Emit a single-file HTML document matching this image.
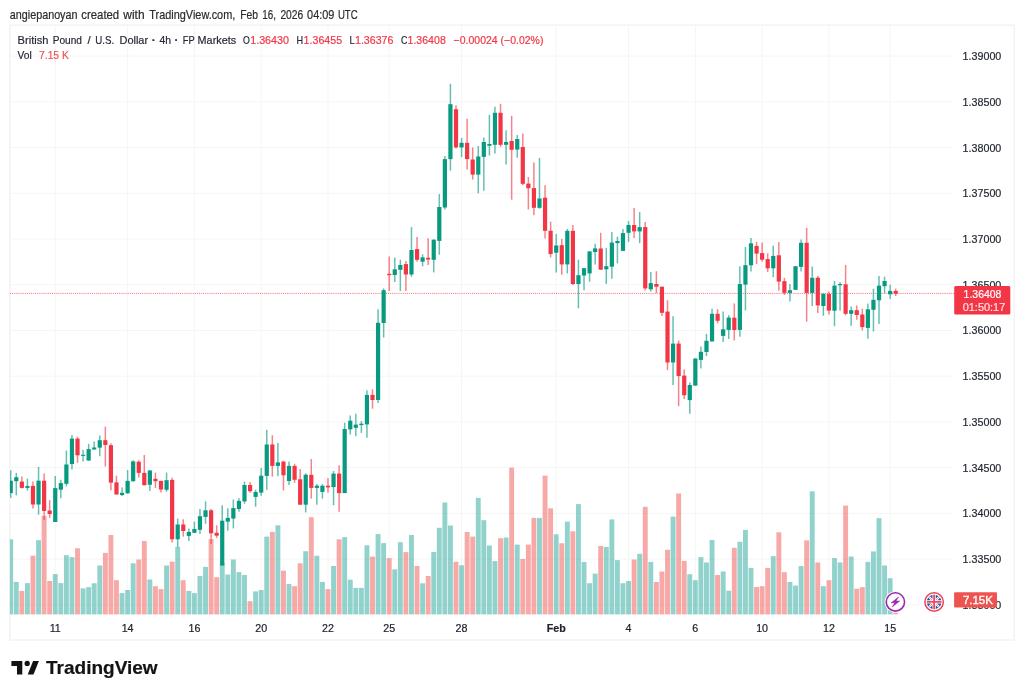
<!DOCTYPE html>
<html><head><meta charset="utf-8"><title>GBPUSD</title>
<style>html,body{margin:0;padding:0;background:#fff;}body{width:1024px;height:696px;overflow:hidden;font-family:"Liberation Sans",sans-serif;}svg{display:block;position:absolute;left:0;top:0;will-change:transform;}text{font-family:"Liberation Sans",sans-serif;}</style>
</head><body>
<svg width="1024" height="696" viewBox="0 0 1024 696">
<rect x="0" y="0" width="1024" height="696" fill="#ffffff"/>
<defs><clipPath id="plot"><rect x="9.9" y="25.7" width="1003.6" height="613.5"/></clipPath><clipPath id="flag"><circle cx="934.1" cy="601.95" r="7.3"/></clipPath></defs>
<g stroke="#f5f5f6" stroke-width="1.0" shape-rendering="auto">
<line x1="10" y1="56.10" x2="953.3" y2="56.10"/>
<line x1="10" y1="101.83" x2="953.3" y2="101.83"/>
<line x1="10" y1="147.55" x2="953.3" y2="147.55"/>
<line x1="10" y1="193.28" x2="953.3" y2="193.28"/>
<line x1="10" y1="239.00" x2="953.3" y2="239.00"/>
<line x1="10" y1="284.73" x2="953.3" y2="284.73"/>
<line x1="10" y1="330.45" x2="953.3" y2="330.45"/>
<line x1="10" y1="376.18" x2="953.3" y2="376.18"/>
<line x1="10" y1="421.90" x2="953.3" y2="421.90"/>
<line x1="10" y1="467.63" x2="953.3" y2="467.63"/>
<line x1="10" y1="513.35" x2="953.3" y2="513.35"/>
<line x1="10" y1="559.08" x2="953.3" y2="559.08"/>
<line x1="10" y1="604.80" x2="953.3" y2="604.80"/>
<line x1="55.25" y1="25.7" x2="55.25" y2="614.4"/>
<line x1="127.61" y1="25.7" x2="127.61" y2="614.4"/>
<line x1="194.40" y1="25.7" x2="194.40" y2="614.4"/>
<line x1="261.19" y1="25.7" x2="261.19" y2="614.4"/>
<line x1="327.98" y1="25.7" x2="327.98" y2="614.4"/>
<line x1="389.21" y1="25.7" x2="389.21" y2="614.4"/>
<line x1="461.57" y1="25.7" x2="461.57" y2="614.4"/>
<line x1="556.19" y1="25.7" x2="556.19" y2="614.4"/>
<line x1="628.55" y1="25.7" x2="628.55" y2="614.4"/>
<line x1="695.34" y1="25.7" x2="695.34" y2="614.4"/>
<line x1="762.13" y1="25.7" x2="762.13" y2="614.4"/>
<line x1="828.92" y1="25.7" x2="828.92" y2="614.4"/>
<line x1="890.15" y1="25.7" x2="890.15" y2="614.4"/>
</g>
<rect x="9.9" y="25.1" width="1004.3" height="614.9" fill="none" stroke="#f1f1f2" stroke-width="1.3"/>
<g clip-path="url(#plot)">
<rect x="8.27" y="539.30" width="4.90" height="75.10" fill="rgba(38,166,154,0.5)"/>
<rect x="13.84" y="581.90" width="4.90" height="32.50" fill="rgba(38,166,154,0.5)"/>
<rect x="19.40" y="590.90" width="4.90" height="23.50" fill="rgba(239,83,80,0.5)"/>
<rect x="24.97" y="583.10" width="4.90" height="31.30" fill="rgba(38,166,154,0.5)"/>
<rect x="30.53" y="555.70" width="4.90" height="58.70" fill="rgba(239,83,80,0.5)"/>
<rect x="36.10" y="540.20" width="4.90" height="74.20" fill="rgba(38,166,154,0.5)"/>
<rect x="41.67" y="515.90" width="4.90" height="98.50" fill="rgba(239,83,80,0.5)"/>
<rect x="47.23" y="581.00" width="4.90" height="33.40" fill="rgba(239,83,80,0.5)"/>
<rect x="52.80" y="574.10" width="4.90" height="40.30" fill="rgba(38,166,154,0.5)"/>
<rect x="58.36" y="583.10" width="4.90" height="31.30" fill="rgba(38,166,154,0.5)"/>
<rect x="63.93" y="555.20" width="4.90" height="59.20" fill="rgba(38,166,154,0.5)"/>
<rect x="69.50" y="557.20" width="4.90" height="57.20" fill="rgba(38,166,154,0.5)"/>
<rect x="75.06" y="548.30" width="4.90" height="66.10" fill="rgba(239,83,80,0.5)"/>
<rect x="80.63" y="588.40" width="4.90" height="26.00" fill="rgba(38,166,154,0.5)"/>
<rect x="86.19" y="587.10" width="4.90" height="27.30" fill="rgba(38,166,154,0.5)"/>
<rect x="91.76" y="583.30" width="4.90" height="31.10" fill="rgba(38,166,154,0.5)"/>
<rect x="97.33" y="565.50" width="4.90" height="48.90" fill="rgba(38,166,154,0.5)"/>
<rect x="102.89" y="552.90" width="4.90" height="61.50" fill="rgba(239,83,80,0.5)"/>
<rect x="108.46" y="535.00" width="4.90" height="79.40" fill="rgba(239,83,80,0.5)"/>
<rect x="114.02" y="580.20" width="4.90" height="34.20" fill="rgba(239,83,80,0.5)"/>
<rect x="119.59" y="593.10" width="4.90" height="21.30" fill="rgba(38,166,154,0.5)"/>
<rect x="125.16" y="590.00" width="4.90" height="24.40" fill="rgba(38,166,154,0.5)"/>
<rect x="130.72" y="563.30" width="4.90" height="51.10" fill="rgba(38,166,154,0.5)"/>
<rect x="136.29" y="559.50" width="4.90" height="54.90" fill="rgba(239,83,80,0.5)"/>
<rect x="141.85" y="541.00" width="4.90" height="73.40" fill="rgba(239,83,80,0.5)"/>
<rect x="147.42" y="579.50" width="4.90" height="34.90" fill="rgba(38,166,154,0.5)"/>
<rect x="152.99" y="586.20" width="4.90" height="28.20" fill="rgba(239,83,80,0.5)"/>
<rect x="158.55" y="589.10" width="4.90" height="25.30" fill="rgba(239,83,80,0.5)"/>
<rect x="164.12" y="565.50" width="4.90" height="48.90" fill="rgba(38,166,154,0.5)"/>
<rect x="169.68" y="561.70" width="4.90" height="52.70" fill="rgba(239,83,80,0.5)"/>
<rect x="175.25" y="546.90" width="4.90" height="67.50" fill="rgba(38,166,154,0.5)"/>
<rect x="180.82" y="580.20" width="4.90" height="34.20" fill="rgba(239,83,80,0.5)"/>
<rect x="186.38" y="590.90" width="4.90" height="23.50" fill="rgba(38,166,154,0.5)"/>
<rect x="191.95" y="593.10" width="4.90" height="21.30" fill="rgba(38,166,154,0.5)"/>
<rect x="197.51" y="575.90" width="4.90" height="38.50" fill="rgba(38,166,154,0.5)"/>
<rect x="203.08" y="566.90" width="4.90" height="47.50" fill="rgba(38,166,154,0.5)"/>
<rect x="208.65" y="539.10" width="4.90" height="75.30" fill="rgba(239,83,80,0.5)"/>
<rect x="214.21" y="577.20" width="4.90" height="37.20" fill="rgba(239,83,80,0.5)"/>
<rect x="219.78" y="563.00" width="4.90" height="51.40" fill="rgba(38,166,154,0.5)"/>
<rect x="225.34" y="574.50" width="4.90" height="39.90" fill="rgba(38,166,154,0.5)"/>
<rect x="230.91" y="559.50" width="4.90" height="54.90" fill="rgba(38,166,154,0.5)"/>
<rect x="236.48" y="572.10" width="4.90" height="42.30" fill="rgba(38,166,154,0.5)"/>
<rect x="242.04" y="575.00" width="4.90" height="39.40" fill="rgba(38,166,154,0.5)"/>
<rect x="247.61" y="601.20" width="4.90" height="13.20" fill="rgba(239,83,80,0.5)"/>
<rect x="253.17" y="591.40" width="4.90" height="23.00" fill="rgba(38,166,154,0.5)"/>
<rect x="258.74" y="590.00" width="4.90" height="24.40" fill="rgba(38,166,154,0.5)"/>
<rect x="264.31" y="536.60" width="4.90" height="77.80" fill="rgba(38,166,154,0.5)"/>
<rect x="269.87" y="531.90" width="4.90" height="82.50" fill="rgba(239,83,80,0.5)"/>
<rect x="275.44" y="525.30" width="4.90" height="89.10" fill="rgba(38,166,154,0.5)"/>
<rect x="281.00" y="570.70" width="4.90" height="43.70" fill="rgba(239,83,80,0.5)"/>
<rect x="286.57" y="584.00" width="4.90" height="30.40" fill="rgba(38,166,154,0.5)"/>
<rect x="292.14" y="586.20" width="4.90" height="28.20" fill="rgba(239,83,80,0.5)"/>
<rect x="297.70" y="563.30" width="4.90" height="51.10" fill="rgba(239,83,80,0.5)"/>
<rect x="303.27" y="551.20" width="4.90" height="63.20" fill="rgba(38,166,154,0.5)"/>
<rect x="308.83" y="517.20" width="4.90" height="97.20" fill="rgba(239,83,80,0.5)"/>
<rect x="314.40" y="555.70" width="4.90" height="58.70" fill="rgba(38,166,154,0.5)"/>
<rect x="319.97" y="581.90" width="4.90" height="32.50" fill="rgba(38,166,154,0.5)"/>
<rect x="325.53" y="589.10" width="4.90" height="25.30" fill="rgba(239,83,80,0.5)"/>
<rect x="331.10" y="566.00" width="4.90" height="48.40" fill="rgba(38,166,154,0.5)"/>
<rect x="336.66" y="539.30" width="4.90" height="75.10" fill="rgba(239,83,80,0.5)"/>
<rect x="342.23" y="537.10" width="4.90" height="77.30" fill="rgba(38,166,154,0.5)"/>
<rect x="347.80" y="579.70" width="4.90" height="34.70" fill="rgba(38,166,154,0.5)"/>
<rect x="353.36" y="587.90" width="4.90" height="26.50" fill="rgba(38,166,154,0.5)"/>
<rect x="358.93" y="587.90" width="4.90" height="26.50" fill="rgba(38,166,154,0.5)"/>
<rect x="364.49" y="545.30" width="4.90" height="69.10" fill="rgba(38,166,154,0.5)"/>
<rect x="370.06" y="556.60" width="4.90" height="57.80" fill="rgba(239,83,80,0.5)"/>
<rect x="375.63" y="534.10" width="4.90" height="80.30" fill="rgba(38,166,154,0.5)"/>
<rect x="381.19" y="543.10" width="4.90" height="71.30" fill="rgba(38,166,154,0.5)"/>
<rect x="386.76" y="558.10" width="4.90" height="56.30" fill="rgba(239,83,80,0.5)"/>
<rect x="392.32" y="569.30" width="4.90" height="45.10" fill="rgba(38,166,154,0.5)"/>
<rect x="397.89" y="542.20" width="4.90" height="72.20" fill="rgba(38,166,154,0.5)"/>
<rect x="403.46" y="552.10" width="4.90" height="62.30" fill="rgba(239,83,80,0.5)"/>
<rect x="409.02" y="535.00" width="4.90" height="79.40" fill="rgba(38,166,154,0.5)"/>
<rect x="414.59" y="566.00" width="4.90" height="48.40" fill="rgba(239,83,80,0.5)"/>
<rect x="420.15" y="583.30" width="4.90" height="31.10" fill="rgba(38,166,154,0.5)"/>
<rect x="425.72" y="576.00" width="4.90" height="38.40" fill="rgba(239,83,80,0.5)"/>
<rect x="431.29" y="552.00" width="4.90" height="62.40" fill="rgba(38,166,154,0.5)"/>
<rect x="436.85" y="527.80" width="4.90" height="86.60" fill="rgba(38,166,154,0.5)"/>
<rect x="442.42" y="502.50" width="4.90" height="111.90" fill="rgba(38,166,154,0.5)"/>
<rect x="447.98" y="525.50" width="4.90" height="88.90" fill="rgba(38,166,154,0.5)"/>
<rect x="453.55" y="561.80" width="4.90" height="52.60" fill="rgba(239,83,80,0.5)"/>
<rect x="459.12" y="565.30" width="4.90" height="49.10" fill="rgba(38,166,154,0.5)"/>
<rect x="464.68" y="532.00" width="4.90" height="82.40" fill="rgba(239,83,80,0.5)"/>
<rect x="470.25" y="536.60" width="4.90" height="77.80" fill="rgba(239,83,80,0.5)"/>
<rect x="475.81" y="497.90" width="4.90" height="116.50" fill="rgba(38,166,154,0.5)"/>
<rect x="481.38" y="520.20" width="4.90" height="94.20" fill="rgba(38,166,154,0.5)"/>
<rect x="486.95" y="545.50" width="4.90" height="68.90" fill="rgba(38,166,154,0.5)"/>
<rect x="492.51" y="561.10" width="4.90" height="53.30" fill="rgba(38,166,154,0.5)"/>
<rect x="498.08" y="538.20" width="4.90" height="76.20" fill="rgba(239,83,80,0.5)"/>
<rect x="503.64" y="537.50" width="4.90" height="76.90" fill="rgba(38,166,154,0.5)"/>
<rect x="509.21" y="467.60" width="4.90" height="146.80" fill="rgba(239,83,80,0.5)"/>
<rect x="514.78" y="544.60" width="4.90" height="69.80" fill="rgba(38,166,154,0.5)"/>
<rect x="520.34" y="558.90" width="4.90" height="55.50" fill="rgba(239,83,80,0.5)"/>
<rect x="525.91" y="544.60" width="4.90" height="69.80" fill="rgba(239,83,80,0.5)"/>
<rect x="531.47" y="517.90" width="4.90" height="96.50" fill="rgba(239,83,80,0.5)"/>
<rect x="537.04" y="517.90" width="4.90" height="96.50" fill="rgba(38,166,154,0.5)"/>
<rect x="542.61" y="475.60" width="4.90" height="138.80" fill="rgba(239,83,80,0.5)"/>
<rect x="548.17" y="508.30" width="4.90" height="106.10" fill="rgba(239,83,80,0.5)"/>
<rect x="553.74" y="534.30" width="4.90" height="80.10" fill="rgba(38,166,154,0.5)"/>
<rect x="559.30" y="543.30" width="4.90" height="71.10" fill="rgba(239,83,80,0.5)"/>
<rect x="564.87" y="521.60" width="4.90" height="92.80" fill="rgba(38,166,154,0.5)"/>
<rect x="570.44" y="531.30" width="4.90" height="83.10" fill="rgba(239,83,80,0.5)"/>
<rect x="576.00" y="504.10" width="4.90" height="110.30" fill="rgba(38,166,154,0.5)"/>
<rect x="581.57" y="561.90" width="4.90" height="52.50" fill="rgba(38,166,154,0.5)"/>
<rect x="587.13" y="583.20" width="4.90" height="31.20" fill="rgba(38,166,154,0.5)"/>
<rect x="592.70" y="573.60" width="4.90" height="40.80" fill="rgba(38,166,154,0.5)"/>
<rect x="598.27" y="546.00" width="4.90" height="68.40" fill="rgba(239,83,80,0.5)"/>
<rect x="603.83" y="547.00" width="4.90" height="67.40" fill="rgba(38,166,154,0.5)"/>
<rect x="609.40" y="519.40" width="4.90" height="95.00" fill="rgba(38,166,154,0.5)"/>
<rect x="614.96" y="560.10" width="4.90" height="54.30" fill="rgba(38,166,154,0.5)"/>
<rect x="620.53" y="583.20" width="4.90" height="31.20" fill="rgba(38,166,154,0.5)"/>
<rect x="626.10" y="581.00" width="4.90" height="33.40" fill="rgba(38,166,154,0.5)"/>
<rect x="631.66" y="559.50" width="4.90" height="54.90" fill="rgba(239,83,80,0.5)"/>
<rect x="637.23" y="553.80" width="4.90" height="60.60" fill="rgba(38,166,154,0.5)"/>
<rect x="642.79" y="506.80" width="4.90" height="107.60" fill="rgba(239,83,80,0.5)"/>
<rect x="648.36" y="561.90" width="4.90" height="52.50" fill="rgba(38,166,154,0.5)"/>
<rect x="653.93" y="582.00" width="4.90" height="32.40" fill="rgba(239,83,80,0.5)"/>
<rect x="659.49" y="571.50" width="4.90" height="42.90" fill="rgba(239,83,80,0.5)"/>
<rect x="665.06" y="549.80" width="4.90" height="64.60" fill="rgba(239,83,80,0.5)"/>
<rect x="670.62" y="516.60" width="4.90" height="97.80" fill="rgba(38,166,154,0.5)"/>
<rect x="676.19" y="493.50" width="4.90" height="120.90" fill="rgba(239,83,80,0.5)"/>
<rect x="681.76" y="560.90" width="4.90" height="53.50" fill="rgba(239,83,80,0.5)"/>
<rect x="687.32" y="574.20" width="4.90" height="40.20" fill="rgba(38,166,154,0.5)"/>
<rect x="692.89" y="580.20" width="4.90" height="34.20" fill="rgba(38,166,154,0.5)"/>
<rect x="698.45" y="557.10" width="4.90" height="57.30" fill="rgba(38,166,154,0.5)"/>
<rect x="704.02" y="562.50" width="4.90" height="51.90" fill="rgba(38,166,154,0.5)"/>
<rect x="709.59" y="540.00" width="4.90" height="74.40" fill="rgba(38,166,154,0.5)"/>
<rect x="715.15" y="575.00" width="4.90" height="39.40" fill="rgba(239,83,80,0.5)"/>
<rect x="720.72" y="571.50" width="4.90" height="42.90" fill="rgba(38,166,154,0.5)"/>
<rect x="726.28" y="590.70" width="4.90" height="23.70" fill="rgba(38,166,154,0.5)"/>
<rect x="731.85" y="547.80" width="4.90" height="66.60" fill="rgba(239,83,80,0.5)"/>
<rect x="737.42" y="541.80" width="4.90" height="72.60" fill="rgba(38,166,154,0.5)"/>
<rect x="742.98" y="529.90" width="4.90" height="84.50" fill="rgba(38,166,154,0.5)"/>
<rect x="748.55" y="567.90" width="4.90" height="46.50" fill="rgba(38,166,154,0.5)"/>
<rect x="754.11" y="587.00" width="4.90" height="27.40" fill="rgba(239,83,80,0.5)"/>
<rect x="759.68" y="586.20" width="4.90" height="28.20" fill="rgba(239,83,80,0.5)"/>
<rect x="765.25" y="567.90" width="4.90" height="46.50" fill="rgba(239,83,80,0.5)"/>
<rect x="770.81" y="556.10" width="4.90" height="58.30" fill="rgba(38,166,154,0.5)"/>
<rect x="776.38" y="532.30" width="4.90" height="82.10" fill="rgba(239,83,80,0.5)"/>
<rect x="781.94" y="572.20" width="4.90" height="42.20" fill="rgba(239,83,80,0.5)"/>
<rect x="787.51" y="582.00" width="4.90" height="32.40" fill="rgba(38,166,154,0.5)"/>
<rect x="793.08" y="585.60" width="4.90" height="28.80" fill="rgba(38,166,154,0.5)"/>
<rect x="798.64" y="566.10" width="4.90" height="48.30" fill="rgba(38,166,154,0.5)"/>
<rect x="804.21" y="540.40" width="4.90" height="74.00" fill="rgba(239,83,80,0.5)"/>
<rect x="809.77" y="491.30" width="4.90" height="123.10" fill="rgba(38,166,154,0.5)"/>
<rect x="815.34" y="562.50" width="4.90" height="51.90" fill="rgba(239,83,80,0.5)"/>
<rect x="820.91" y="586.20" width="4.90" height="28.20" fill="rgba(38,166,154,0.5)"/>
<rect x="826.47" y="580.20" width="4.90" height="34.20" fill="rgba(239,83,80,0.5)"/>
<rect x="832.04" y="558.10" width="4.90" height="56.30" fill="rgba(38,166,154,0.5)"/>
<rect x="837.60" y="562.50" width="4.90" height="51.90" fill="rgba(38,166,154,0.5)"/>
<rect x="843.17" y="505.60" width="4.90" height="108.80" fill="rgba(239,83,80,0.5)"/>
<rect x="848.74" y="556.50" width="4.90" height="57.90" fill="rgba(38,166,154,0.5)"/>
<rect x="854.30" y="588.70" width="4.90" height="25.70" fill="rgba(239,83,80,0.5)"/>
<rect x="859.87" y="587.20" width="4.90" height="27.20" fill="rgba(239,83,80,0.5)"/>
<rect x="865.43" y="561.90" width="4.90" height="52.50" fill="rgba(38,166,154,0.5)"/>
<rect x="871.00" y="551.40" width="4.90" height="63.00" fill="rgba(38,166,154,0.5)"/>
<rect x="876.57" y="518.20" width="4.90" height="96.20" fill="rgba(38,166,154,0.5)"/>
<rect x="882.13" y="565.50" width="4.90" height="48.90" fill="rgba(38,166,154,0.5)"/>
<rect x="887.70" y="578.20" width="4.90" height="36.20" fill="rgba(38,166,154,0.5)"/>
<rect x="893.26" y="612.40" width="4.90" height="2.00" fill="rgba(239,83,80,0.5)"/>
<line x1="10" y1="293.4" x2="954" y2="293.4" stroke="#f23645" stroke-width="1" stroke-dasharray="1.05 1.05" opacity="0.72"/>
<line x1="10.72" y1="470.30" x2="10.72" y2="497.90" stroke="#089981" stroke-width="1.5" opacity="0.62"/>
<rect x="8.62" y="480.70" width="4.20" height="12.40" fill="#089981"/>
<line x1="16.29" y1="472.90" x2="16.29" y2="495.30" stroke="#089981" stroke-width="1.5" opacity="0.62"/>
<rect x="14.19" y="477.20" width="4.20" height="4.00" fill="#089981"/>
<line x1="21.85" y1="476.40" x2="21.85" y2="488.40" stroke="#f23645" stroke-width="1.5" opacity="0.62"/>
<rect x="19.75" y="481.60" width="4.20" height="6.30" fill="#f23645"/>
<line x1="27.42" y1="478.60" x2="27.42" y2="490.70" stroke="#089981" stroke-width="1.5" opacity="0.62"/>
<rect x="25.32" y="486.00" width="4.20" height="1.90" fill="#089981"/>
<line x1="32.98" y1="481.60" x2="32.98" y2="508.60" stroke="#f23645" stroke-width="1.5" opacity="0.62"/>
<rect x="30.88" y="485.90" width="4.20" height="18.60" fill="#f23645"/>
<line x1="38.55" y1="466.90" x2="38.55" y2="514.70" stroke="#089981" stroke-width="1.5" opacity="0.62"/>
<rect x="36.45" y="480.70" width="4.20" height="23.80" fill="#089981"/>
<line x1="44.12" y1="473.40" x2="44.12" y2="520.00" stroke="#f23645" stroke-width="1.5" opacity="0.62"/>
<rect x="42.02" y="480.70" width="4.20" height="30.20" fill="#f23645"/>
<line x1="49.68" y1="500.20" x2="49.68" y2="517.80" stroke="#f23645" stroke-width="1.5" opacity="0.62"/>
<rect x="47.58" y="510.50" width="4.20" height="3.50" fill="#f23645"/>
<line x1="55.25" y1="476.00" x2="55.25" y2="522.00" stroke="#089981" stroke-width="1.5" opacity="0.62"/>
<rect x="53.15" y="488.10" width="4.20" height="33.90" fill="#089981"/>
<line x1="60.81" y1="479.80" x2="60.81" y2="498.30" stroke="#089981" stroke-width="1.5" opacity="0.62"/>
<rect x="58.71" y="483.10" width="4.20" height="6.60" fill="#089981"/>
<line x1="66.38" y1="450.50" x2="66.38" y2="486.40" stroke="#089981" stroke-width="1.5" opacity="0.62"/>
<rect x="64.28" y="464.50" width="4.20" height="19.30" fill="#089981"/>
<line x1="71.95" y1="435.00" x2="71.95" y2="469.50" stroke="#089981" stroke-width="1.5" opacity="0.62"/>
<rect x="69.85" y="438.60" width="4.20" height="25.40" fill="#089981"/>
<line x1="77.51" y1="436.70" x2="77.51" y2="462.80" stroke="#f23645" stroke-width="1.5" opacity="0.62"/>
<rect x="75.41" y="438.60" width="4.20" height="16.70" fill="#f23645"/>
<line x1="83.08" y1="449.70" x2="83.08" y2="461.40" stroke="#089981" stroke-width="1.5" opacity="0.62"/>
<rect x="80.98" y="454.80" width="4.20" height="1.10" fill="#089981"/>
<line x1="88.64" y1="443.80" x2="88.64" y2="460.90" stroke="#089981" stroke-width="1.5" opacity="0.62"/>
<rect x="86.54" y="449.10" width="4.20" height="11.40" fill="#089981"/>
<line x1="94.21" y1="441.60" x2="94.21" y2="449.50" stroke="#089981" stroke-width="1.5" opacity="0.62"/>
<rect x="92.11" y="447.50" width="4.20" height="2.00" fill="#089981"/>
<line x1="99.78" y1="435.50" x2="99.78" y2="456.20" stroke="#089981" stroke-width="1.5" opacity="0.62"/>
<rect x="97.68" y="440.20" width="4.20" height="7.40" fill="#089981"/>
<line x1="105.34" y1="426.60" x2="105.34" y2="466.60" stroke="#f23645" stroke-width="1.5" opacity="0.62"/>
<rect x="103.24" y="440.20" width="4.20" height="4.80" fill="#f23645"/>
<line x1="110.91" y1="443.30" x2="110.91" y2="490.30" stroke="#f23645" stroke-width="1.5" opacity="0.62"/>
<rect x="108.81" y="445.20" width="4.20" height="37.40" fill="#f23645"/>
<line x1="116.47" y1="475.70" x2="116.47" y2="494.50" stroke="#f23645" stroke-width="1.5" opacity="0.62"/>
<rect x="114.37" y="482.40" width="4.20" height="12.10" fill="#f23645"/>
<line x1="122.04" y1="487.60" x2="122.04" y2="495.90" stroke="#089981" stroke-width="1.5" opacity="0.62"/>
<rect x="119.94" y="492.80" width="4.20" height="2.20" fill="#089981"/>
<line x1="127.61" y1="470.00" x2="127.61" y2="493.80" stroke="#089981" stroke-width="1.5" opacity="0.62"/>
<rect x="125.51" y="480.90" width="4.20" height="12.40" fill="#089981"/>
<line x1="133.17" y1="460.20" x2="133.17" y2="481.70" stroke="#089981" stroke-width="1.5" opacity="0.62"/>
<rect x="131.07" y="461.40" width="4.20" height="19.80" fill="#089981"/>
<line x1="138.74" y1="460.20" x2="138.74" y2="477.40" stroke="#f23645" stroke-width="1.5" opacity="0.62"/>
<rect x="136.64" y="461.70" width="4.20" height="11.20" fill="#f23645"/>
<line x1="144.30" y1="455.00" x2="144.30" y2="485.50" stroke="#f23645" stroke-width="1.5" opacity="0.62"/>
<rect x="142.20" y="472.90" width="4.20" height="12.30" fill="#f23645"/>
<line x1="149.87" y1="470.00" x2="149.87" y2="491.00" stroke="#089981" stroke-width="1.5" opacity="0.62"/>
<rect x="147.77" y="470.50" width="4.20" height="14.30" fill="#089981"/>
<line x1="155.44" y1="472.60" x2="155.44" y2="488.10" stroke="#f23645" stroke-width="1.5" opacity="0.62"/>
<rect x="153.34" y="478.80" width="4.20" height="2.40" fill="#f23645"/>
<line x1="161.00" y1="480.70" x2="161.00" y2="492.40" stroke="#f23645" stroke-width="1.5" opacity="0.62"/>
<rect x="158.90" y="480.90" width="4.20" height="8.60" fill="#f23645"/>
<line x1="166.57" y1="472.50" x2="166.57" y2="491.80" stroke="#089981" stroke-width="1.5" opacity="0.62"/>
<rect x="164.47" y="480.20" width="4.20" height="9.60" fill="#089981"/>
<line x1="172.13" y1="477.80" x2="172.13" y2="542.60" stroke="#f23645" stroke-width="1.5" opacity="0.62"/>
<rect x="170.03" y="479.90" width="4.20" height="59.40" fill="#f23645"/>
<line x1="177.70" y1="518.60" x2="177.70" y2="547.40" stroke="#089981" stroke-width="1.5" opacity="0.62"/>
<rect x="175.60" y="524.50" width="4.20" height="14.80" fill="#089981"/>
<line x1="183.27" y1="519.30" x2="183.27" y2="536.60" stroke="#f23645" stroke-width="1.5" opacity="0.62"/>
<rect x="181.17" y="524.50" width="4.20" height="6.50" fill="#f23645"/>
<line x1="188.83" y1="528.40" x2="188.83" y2="540.90" stroke="#089981" stroke-width="1.5" opacity="0.62"/>
<rect x="186.73" y="531.90" width="4.20" height="4.00" fill="#089981"/>
<line x1="194.40" y1="521.60" x2="194.40" y2="533.10" stroke="#089981" stroke-width="1.5" opacity="0.62"/>
<rect x="192.30" y="529.00" width="4.20" height="3.80" fill="#089981"/>
<line x1="199.96" y1="509.10" x2="199.96" y2="534.10" stroke="#089981" stroke-width="1.5" opacity="0.62"/>
<rect x="197.86" y="516.20" width="4.20" height="13.60" fill="#089981"/>
<line x1="205.53" y1="501.40" x2="205.53" y2="523.80" stroke="#089981" stroke-width="1.5" opacity="0.62"/>
<rect x="203.43" y="510.30" width="4.20" height="6.60" fill="#089981"/>
<line x1="211.10" y1="509.00" x2="211.10" y2="544.00" stroke="#f23645" stroke-width="1.5" opacity="0.62"/>
<rect x="209.00" y="510.30" width="4.20" height="23.00" fill="#f23645"/>
<line x1="216.66" y1="525.30" x2="216.66" y2="537.90" stroke="#f23645" stroke-width="1.5" opacity="0.62"/>
<rect x="214.56" y="532.80" width="4.20" height="2.90" fill="#f23645"/>
<line x1="222.23" y1="505.20" x2="222.23" y2="565.50" stroke="#089981" stroke-width="1.5" opacity="0.62"/>
<rect x="220.13" y="520.70" width="4.20" height="44.80" fill="#089981"/>
<line x1="227.79" y1="508.30" x2="227.79" y2="530.70" stroke="#089981" stroke-width="1.5" opacity="0.62"/>
<rect x="225.69" y="517.90" width="4.20" height="3.70" fill="#089981"/>
<line x1="233.36" y1="499.50" x2="233.36" y2="528.40" stroke="#089981" stroke-width="1.5" opacity="0.62"/>
<rect x="231.26" y="508.10" width="4.20" height="10.50" fill="#089981"/>
<line x1="238.93" y1="498.30" x2="238.93" y2="511.70" stroke="#089981" stroke-width="1.5" opacity="0.62"/>
<rect x="236.83" y="500.90" width="4.20" height="8.10" fill="#089981"/>
<line x1="244.49" y1="481.60" x2="244.49" y2="503.80" stroke="#089981" stroke-width="1.5" opacity="0.62"/>
<rect x="242.39" y="485.00" width="4.20" height="16.40" fill="#089981"/>
<line x1="250.06" y1="481.90" x2="250.06" y2="492.80" stroke="#f23645" stroke-width="1.5" opacity="0.62"/>
<rect x="247.96" y="485.00" width="4.20" height="6.20" fill="#f23645"/>
<line x1="255.62" y1="489.70" x2="255.62" y2="506.80" stroke="#089981" stroke-width="1.5" opacity="0.62"/>
<rect x="253.52" y="492.00" width="4.20" height="4.90" fill="#089981"/>
<line x1="261.19" y1="468.10" x2="261.19" y2="495.70" stroke="#089981" stroke-width="1.5" opacity="0.62"/>
<rect x="259.09" y="475.70" width="4.20" height="16.90" fill="#089981"/>
<line x1="266.76" y1="429.70" x2="266.76" y2="489.70" stroke="#089981" stroke-width="1.5" opacity="0.62"/>
<rect x="264.66" y="444.50" width="4.20" height="31.40" fill="#089981"/>
<line x1="272.32" y1="435.30" x2="272.32" y2="476.70" stroke="#f23645" stroke-width="1.5" opacity="0.62"/>
<rect x="270.22" y="444.50" width="4.20" height="21.40" fill="#f23645"/>
<line x1="277.89" y1="443.10" x2="277.89" y2="476.20" stroke="#089981" stroke-width="1.5" opacity="0.62"/>
<rect x="275.79" y="462.40" width="4.20" height="3.50" fill="#089981"/>
<line x1="283.45" y1="460.70" x2="283.45" y2="490.50" stroke="#f23645" stroke-width="1.5" opacity="0.62"/>
<rect x="281.35" y="461.60" width="4.20" height="13.70" fill="#f23645"/>
<line x1="289.02" y1="461.60" x2="289.02" y2="485.00" stroke="#089981" stroke-width="1.5" opacity="0.62"/>
<rect x="286.92" y="465.90" width="4.20" height="15.10" fill="#089981"/>
<line x1="294.59" y1="463.80" x2="294.59" y2="482.80" stroke="#f23645" stroke-width="1.5" opacity="0.62"/>
<rect x="292.49" y="465.90" width="4.20" height="13.90" fill="#f23645"/>
<line x1="300.15" y1="469.00" x2="300.15" y2="504.70" stroke="#f23645" stroke-width="1.5" opacity="0.62"/>
<rect x="298.05" y="479.30" width="4.20" height="25.40" fill="#f23645"/>
<line x1="305.72" y1="473.30" x2="305.72" y2="512.40" stroke="#089981" stroke-width="1.5" opacity="0.62"/>
<rect x="303.62" y="474.70" width="4.20" height="30.00" fill="#089981"/>
<line x1="311.28" y1="459.10" x2="311.28" y2="498.60" stroke="#f23645" stroke-width="1.5" opacity="0.62"/>
<rect x="309.18" y="474.80" width="4.20" height="13.10" fill="#f23645"/>
<line x1="316.85" y1="484.10" x2="316.85" y2="504.70" stroke="#089981" stroke-width="1.5" opacity="0.62"/>
<rect x="314.75" y="485.70" width="4.20" height="2.20" fill="#089981"/>
<line x1="322.42" y1="484.10" x2="322.42" y2="498.60" stroke="#089981" stroke-width="1.5" opacity="0.62"/>
<rect x="320.32" y="485.70" width="4.20" height="6.20" fill="#089981"/>
<line x1="327.98" y1="477.90" x2="327.98" y2="492.80" stroke="#f23645" stroke-width="1.5" opacity="0.62"/>
<rect x="325.88" y="485.70" width="4.20" height="1.70" fill="#f23645"/>
<line x1="333.55" y1="471.00" x2="333.55" y2="505.20" stroke="#089981" stroke-width="1.5" opacity="0.62"/>
<rect x="331.45" y="473.60" width="4.20" height="13.50" fill="#089981"/>
<line x1="339.11" y1="465.20" x2="339.11" y2="511.70" stroke="#f23645" stroke-width="1.5" opacity="0.62"/>
<rect x="337.01" y="473.60" width="4.20" height="19.50" fill="#f23645"/>
<line x1="344.68" y1="422.70" x2="344.68" y2="493.10" stroke="#089981" stroke-width="1.5" opacity="0.62"/>
<rect x="342.58" y="429.00" width="4.20" height="64.10" fill="#089981"/>
<line x1="350.25" y1="415.60" x2="350.25" y2="434.50" stroke="#089981" stroke-width="1.5" opacity="0.62"/>
<rect x="348.15" y="420.70" width="4.20" height="8.70" fill="#089981"/>
<line x1="355.81" y1="413.80" x2="355.81" y2="436.30" stroke="#089981" stroke-width="1.5" opacity="0.62"/>
<rect x="353.71" y="424.60" width="4.20" height="3.20" fill="#089981"/>
<line x1="361.38" y1="421.10" x2="361.38" y2="432.90" stroke="#089981" stroke-width="1.5" opacity="0.62"/>
<rect x="359.28" y="423.70" width="4.20" height="1.30" fill="#089981"/>
<line x1="366.94" y1="390.30" x2="366.94" y2="437.70" stroke="#089981" stroke-width="1.5" opacity="0.62"/>
<rect x="364.84" y="394.90" width="4.20" height="29.50" fill="#089981"/>
<line x1="372.51" y1="389.20" x2="372.51" y2="408.70" stroke="#f23645" stroke-width="1.5" opacity="0.62"/>
<rect x="370.41" y="394.90" width="4.20" height="5.10" fill="#f23645"/>
<line x1="378.08" y1="309.20" x2="378.08" y2="403.00" stroke="#089981" stroke-width="1.5" opacity="0.62"/>
<rect x="375.98" y="322.80" width="4.20" height="77.20" fill="#089981"/>
<line x1="383.64" y1="288.40" x2="383.64" y2="337.50" stroke="#089981" stroke-width="1.5" opacity="0.62"/>
<rect x="381.54" y="290.20" width="4.20" height="32.80" fill="#089981"/>
<line x1="389.21" y1="256.60" x2="389.21" y2="290.90" stroke="#f23645" stroke-width="1.5" opacity="0.62"/>
<rect x="387.11" y="273.80" width="4.20" height="1.40" fill="#f23645"/>
<line x1="394.77" y1="257.40" x2="394.77" y2="281.90" stroke="#089981" stroke-width="1.5" opacity="0.62"/>
<rect x="392.67" y="269.30" width="4.20" height="5.70" fill="#089981"/>
<line x1="400.34" y1="259.80" x2="400.34" y2="290.90" stroke="#089981" stroke-width="1.5" opacity="0.62"/>
<rect x="398.24" y="265.00" width="4.20" height="4.80" fill="#089981"/>
<line x1="405.91" y1="260.90" x2="405.91" y2="290.90" stroke="#f23645" stroke-width="1.5" opacity="0.62"/>
<rect x="403.81" y="264.10" width="4.20" height="10.40" fill="#f23645"/>
<line x1="411.47" y1="227.10" x2="411.47" y2="276.70" stroke="#089981" stroke-width="1.5" opacity="0.62"/>
<rect x="409.37" y="250.00" width="4.20" height="24.50" fill="#089981"/>
<line x1="417.04" y1="237.10" x2="417.04" y2="261.70" stroke="#f23645" stroke-width="1.5" opacity="0.62"/>
<rect x="414.94" y="249.10" width="4.20" height="10.70" fill="#f23645"/>
<line x1="422.60" y1="254.30" x2="422.60" y2="266.40" stroke="#089981" stroke-width="1.5" opacity="0.62"/>
<rect x="420.50" y="257.40" width="4.20" height="4.30" fill="#089981"/>
<line x1="428.17" y1="238.30" x2="428.17" y2="265.00" stroke="#f23645" stroke-width="1.5" opacity="0.62"/>
<rect x="426.07" y="257.80" width="4.20" height="1.70" fill="#f23645"/>
<line x1="433.74" y1="239.30" x2="433.74" y2="272.40" stroke="#089981" stroke-width="1.5" opacity="0.62"/>
<rect x="431.64" y="239.70" width="4.20" height="20.10" fill="#089981"/>
<line x1="439.30" y1="194.10" x2="439.30" y2="254.70" stroke="#089981" stroke-width="1.5" opacity="0.62"/>
<rect x="437.20" y="207.00" width="4.20" height="33.90" fill="#089981"/>
<line x1="444.87" y1="156.10" x2="444.87" y2="209.60" stroke="#089981" stroke-width="1.5" opacity="0.62"/>
<rect x="442.77" y="159.10" width="4.20" height="48.40" fill="#089981"/>
<line x1="450.43" y1="83.80" x2="450.43" y2="170.60" stroke="#089981" stroke-width="1.5" opacity="0.62"/>
<rect x="448.33" y="104.20" width="4.20" height="54.90" fill="#089981"/>
<line x1="456.00" y1="105.20" x2="456.00" y2="148.40" stroke="#f23645" stroke-width="1.5" opacity="0.62"/>
<rect x="453.90" y="109.20" width="4.20" height="38.20" fill="#f23645"/>
<line x1="461.57" y1="138.00" x2="461.57" y2="157.10" stroke="#089981" stroke-width="1.5" opacity="0.62"/>
<rect x="459.47" y="142.80" width="4.20" height="4.60" fill="#089981"/>
<line x1="467.13" y1="118.70" x2="467.13" y2="169.60" stroke="#f23645" stroke-width="1.5" opacity="0.62"/>
<rect x="465.03" y="142.80" width="4.20" height="16.30" fill="#f23645"/>
<line x1="472.70" y1="147.40" x2="472.70" y2="179.60" stroke="#f23645" stroke-width="1.5" opacity="0.62"/>
<rect x="470.60" y="159.50" width="4.20" height="15.10" fill="#f23645"/>
<line x1="478.26" y1="146.00" x2="478.26" y2="193.30" stroke="#089981" stroke-width="1.5" opacity="0.62"/>
<rect x="476.16" y="156.50" width="4.20" height="18.10" fill="#089981"/>
<line x1="483.83" y1="137.40" x2="483.83" y2="190.70" stroke="#089981" stroke-width="1.5" opacity="0.62"/>
<rect x="481.73" y="142.00" width="4.20" height="14.90" fill="#089981"/>
<line x1="489.40" y1="114.80" x2="489.40" y2="155.50" stroke="#089981" stroke-width="1.5" opacity="0.62"/>
<rect x="487.30" y="144.00" width="4.20" height="1.80" fill="#089981"/>
<line x1="494.96" y1="106.80" x2="494.96" y2="153.50" stroke="#089981" stroke-width="1.5" opacity="0.62"/>
<rect x="492.86" y="112.80" width="4.20" height="32.00" fill="#089981"/>
<line x1="500.53" y1="103.80" x2="500.53" y2="146.80" stroke="#f23645" stroke-width="1.5" opacity="0.62"/>
<rect x="498.43" y="112.80" width="4.20" height="32.00" fill="#f23645"/>
<line x1="506.09" y1="130.30" x2="506.09" y2="164.50" stroke="#089981" stroke-width="1.5" opacity="0.62"/>
<rect x="503.99" y="142.00" width="4.20" height="2.80" fill="#089981"/>
<line x1="511.66" y1="115.80" x2="511.66" y2="199.70" stroke="#f23645" stroke-width="1.5" opacity="0.62"/>
<rect x="509.56" y="141.00" width="4.20" height="8.80" fill="#f23645"/>
<line x1="517.23" y1="135.00" x2="517.23" y2="157.80" stroke="#089981" stroke-width="1.5" opacity="0.62"/>
<rect x="515.13" y="139.00" width="4.20" height="10.60" fill="#089981"/>
<line x1="522.79" y1="133.50" x2="522.79" y2="185.20" stroke="#f23645" stroke-width="1.5" opacity="0.62"/>
<rect x="520.69" y="147.00" width="4.20" height="36.80" fill="#f23645"/>
<line x1="528.36" y1="177.10" x2="528.36" y2="209.50" stroke="#f23645" stroke-width="1.5" opacity="0.62"/>
<rect x="526.26" y="183.60" width="4.20" height="4.60" fill="#f23645"/>
<line x1="533.92" y1="162.60" x2="533.92" y2="215.30" stroke="#f23645" stroke-width="1.5" opacity="0.62"/>
<rect x="531.82" y="188.10" width="4.20" height="19.70" fill="#f23645"/>
<line x1="539.49" y1="157.90" x2="539.49" y2="208.80" stroke="#089981" stroke-width="1.5" opacity="0.62"/>
<rect x="537.39" y="198.50" width="4.20" height="9.30" fill="#089981"/>
<line x1="545.06" y1="185.30" x2="545.06" y2="238.50" stroke="#f23645" stroke-width="1.5" opacity="0.62"/>
<rect x="542.96" y="197.70" width="4.20" height="33.10" fill="#f23645"/>
<line x1="550.62" y1="221.70" x2="550.62" y2="257.40" stroke="#f23645" stroke-width="1.5" opacity="0.62"/>
<rect x="548.52" y="230.80" width="4.20" height="23.20" fill="#f23645"/>
<line x1="556.19" y1="233.90" x2="556.19" y2="272.60" stroke="#089981" stroke-width="1.5" opacity="0.62"/>
<rect x="554.09" y="245.50" width="4.20" height="7.20" fill="#089981"/>
<line x1="561.75" y1="239.00" x2="561.75" y2="274.70" stroke="#f23645" stroke-width="1.5" opacity="0.62"/>
<rect x="559.65" y="245.20" width="4.20" height="19.20" fill="#f23645"/>
<line x1="567.32" y1="229.00" x2="567.32" y2="273.40" stroke="#089981" stroke-width="1.5" opacity="0.62"/>
<rect x="565.22" y="230.80" width="4.20" height="33.60" fill="#089981"/>
<line x1="572.89" y1="225.10" x2="572.89" y2="285.00" stroke="#f23645" stroke-width="1.5" opacity="0.62"/>
<rect x="570.79" y="230.80" width="4.20" height="53.20" fill="#f23645"/>
<line x1="578.45" y1="259.70" x2="578.45" y2="308.30" stroke="#089981" stroke-width="1.5" opacity="0.62"/>
<rect x="576.35" y="275.20" width="4.20" height="8.80" fill="#089981"/>
<line x1="584.02" y1="268.20" x2="584.02" y2="290.20" stroke="#089981" stroke-width="1.5" opacity="0.62"/>
<rect x="581.92" y="268.20" width="4.20" height="7.30" fill="#089981"/>
<line x1="589.58" y1="251.40" x2="589.58" y2="281.70" stroke="#089981" stroke-width="1.5" opacity="0.62"/>
<rect x="587.48" y="251.40" width="4.20" height="22.00" fill="#089981"/>
<line x1="595.15" y1="243.70" x2="595.15" y2="264.40" stroke="#089981" stroke-width="1.5" opacity="0.62"/>
<rect x="593.05" y="248.40" width="4.20" height="3.60" fill="#089981"/>
<line x1="600.72" y1="232.80" x2="600.72" y2="269.70" stroke="#f23645" stroke-width="1.5" opacity="0.62"/>
<rect x="598.62" y="248.50" width="4.20" height="21.20" fill="#f23645"/>
<line x1="606.28" y1="247.80" x2="606.28" y2="283.90" stroke="#089981" stroke-width="1.5" opacity="0.62"/>
<rect x="604.18" y="266.20" width="4.20" height="3.10" fill="#089981"/>
<line x1="611.85" y1="232.00" x2="611.85" y2="278.70" stroke="#089981" stroke-width="1.5" opacity="0.62"/>
<rect x="609.75" y="242.60" width="4.20" height="24.10" fill="#089981"/>
<line x1="617.41" y1="236.60" x2="617.41" y2="263.40" stroke="#089981" stroke-width="1.5" opacity="0.62"/>
<rect x="615.31" y="241.00" width="4.20" height="2.10" fill="#089981"/>
<line x1="622.98" y1="229.00" x2="622.98" y2="250.90" stroke="#089981" stroke-width="1.5" opacity="0.62"/>
<rect x="620.88" y="233.10" width="4.20" height="17.80" fill="#089981"/>
<line x1="628.55" y1="221.00" x2="628.55" y2="241.90" stroke="#089981" stroke-width="1.5" opacity="0.62"/>
<rect x="626.45" y="225.00" width="4.20" height="7.80" fill="#089981"/>
<line x1="634.11" y1="208.10" x2="634.11" y2="237.90" stroke="#f23645" stroke-width="1.5" opacity="0.62"/>
<rect x="632.01" y="225.00" width="4.20" height="6.40" fill="#f23645"/>
<line x1="639.68" y1="212.10" x2="639.68" y2="243.10" stroke="#089981" stroke-width="1.5" opacity="0.62"/>
<rect x="637.58" y="227.10" width="4.20" height="4.30" fill="#089981"/>
<line x1="645.24" y1="222.10" x2="645.24" y2="290.50" stroke="#f23645" stroke-width="1.5" opacity="0.62"/>
<rect x="643.14" y="227.10" width="4.20" height="61.30" fill="#f23645"/>
<line x1="650.81" y1="272.10" x2="650.81" y2="291.40" stroke="#089981" stroke-width="1.5" opacity="0.62"/>
<rect x="648.71" y="283.10" width="4.20" height="6.20" fill="#089981"/>
<line x1="656.38" y1="271.20" x2="656.38" y2="293.10" stroke="#f23645" stroke-width="1.5" opacity="0.62"/>
<rect x="654.28" y="284.00" width="4.20" height="2.70" fill="#f23645"/>
<line x1="661.94" y1="286.70" x2="661.94" y2="315.90" stroke="#f23645" stroke-width="1.5" opacity="0.62"/>
<rect x="659.84" y="286.70" width="4.20" height="26.10" fill="#f23645"/>
<line x1="667.51" y1="300.20" x2="667.51" y2="370.10" stroke="#f23645" stroke-width="1.5" opacity="0.62"/>
<rect x="665.41" y="311.60" width="4.20" height="50.90" fill="#f23645"/>
<line x1="673.07" y1="316.20" x2="673.07" y2="385.00" stroke="#089981" stroke-width="1.5" opacity="0.62"/>
<rect x="670.97" y="343.60" width="4.20" height="18.90" fill="#089981"/>
<line x1="678.64" y1="340.40" x2="678.64" y2="406.20" stroke="#f23645" stroke-width="1.5" opacity="0.62"/>
<rect x="676.54" y="343.60" width="4.20" height="32.40" fill="#f23645"/>
<line x1="684.21" y1="369.50" x2="684.21" y2="399.10" stroke="#f23645" stroke-width="1.5" opacity="0.62"/>
<rect x="682.11" y="375.60" width="4.20" height="19.70" fill="#f23645"/>
<line x1="689.77" y1="382.60" x2="689.77" y2="413.80" stroke="#089981" stroke-width="1.5" opacity="0.62"/>
<rect x="687.67" y="385.00" width="4.20" height="15.10" fill="#089981"/>
<line x1="695.34" y1="358.50" x2="695.34" y2="385.60" stroke="#089981" stroke-width="1.5" opacity="0.62"/>
<rect x="693.24" y="358.50" width="4.20" height="27.10" fill="#089981"/>
<line x1="700.90" y1="346.40" x2="700.90" y2="368.50" stroke="#089981" stroke-width="1.5" opacity="0.62"/>
<rect x="698.80" y="351.80" width="4.20" height="8.10" fill="#089981"/>
<line x1="706.47" y1="333.90" x2="706.47" y2="356.10" stroke="#089981" stroke-width="1.5" opacity="0.62"/>
<rect x="704.37" y="340.80" width="4.20" height="11.20" fill="#089981"/>
<line x1="712.04" y1="308.80" x2="712.04" y2="341.40" stroke="#089981" stroke-width="1.5" opacity="0.62"/>
<rect x="709.94" y="313.80" width="4.20" height="27.60" fill="#089981"/>
<line x1="717.60" y1="309.20" x2="717.60" y2="323.30" stroke="#f23645" stroke-width="1.5" opacity="0.62"/>
<rect x="715.50" y="313.80" width="4.20" height="7.00" fill="#f23645"/>
<line x1="723.17" y1="311.60" x2="723.17" y2="342.00" stroke="#089981" stroke-width="1.5" opacity="0.62"/>
<rect x="721.07" y="329.30" width="4.20" height="6.60" fill="#089981"/>
<line x1="728.73" y1="315.20" x2="728.73" y2="339.00" stroke="#089981" stroke-width="1.5" opacity="0.62"/>
<rect x="726.63" y="317.60" width="4.20" height="12.30" fill="#089981"/>
<line x1="734.30" y1="303.40" x2="734.30" y2="340.50" stroke="#f23645" stroke-width="1.5" opacity="0.62"/>
<rect x="732.20" y="317.70" width="4.20" height="12.30" fill="#f23645"/>
<line x1="739.87" y1="266.20" x2="739.87" y2="336.80" stroke="#089981" stroke-width="1.5" opacity="0.62"/>
<rect x="737.77" y="284.00" width="4.20" height="45.90" fill="#089981"/>
<line x1="745.43" y1="247.10" x2="745.43" y2="310.50" stroke="#089981" stroke-width="1.5" opacity="0.62"/>
<rect x="743.33" y="265.20" width="4.20" height="19.40" fill="#089981"/>
<line x1="751.00" y1="238.10" x2="751.00" y2="271.40" stroke="#089981" stroke-width="1.5" opacity="0.62"/>
<rect x="748.90" y="243.30" width="4.20" height="22.00" fill="#089981"/>
<line x1="756.56" y1="241.90" x2="756.56" y2="264.00" stroke="#f23645" stroke-width="1.5" opacity="0.62"/>
<rect x="754.46" y="245.90" width="4.20" height="7.70" fill="#f23645"/>
<line x1="762.13" y1="242.40" x2="762.13" y2="261.70" stroke="#f23645" stroke-width="1.5" opacity="0.62"/>
<rect x="760.03" y="253.10" width="4.20" height="6.60" fill="#f23645"/>
<line x1="767.70" y1="253.30" x2="767.70" y2="272.10" stroke="#f23645" stroke-width="1.5" opacity="0.62"/>
<rect x="765.60" y="259.10" width="4.20" height="9.20" fill="#f23645"/>
<line x1="773.26" y1="245.50" x2="773.26" y2="277.20" stroke="#089981" stroke-width="1.5" opacity="0.62"/>
<rect x="771.16" y="255.90" width="4.20" height="12.40" fill="#089981"/>
<line x1="778.83" y1="241.90" x2="778.83" y2="290.70" stroke="#f23645" stroke-width="1.5" opacity="0.62"/>
<rect x="776.73" y="255.30" width="4.20" height="26.30" fill="#f23645"/>
<line x1="784.39" y1="277.80" x2="784.39" y2="295.00" stroke="#f23645" stroke-width="1.5" opacity="0.62"/>
<rect x="782.29" y="281.20" width="4.20" height="11.60" fill="#f23645"/>
<line x1="789.96" y1="284.10" x2="789.96" y2="301.60" stroke="#089981" stroke-width="1.5" opacity="0.62"/>
<rect x="787.86" y="290.20" width="4.20" height="2.70" fill="#089981"/>
<line x1="795.53" y1="266.20" x2="795.53" y2="289.80" stroke="#089981" stroke-width="1.5" opacity="0.62"/>
<rect x="793.43" y="266.20" width="4.20" height="23.60" fill="#089981"/>
<line x1="801.09" y1="239.50" x2="801.09" y2="271.40" stroke="#089981" stroke-width="1.5" opacity="0.62"/>
<rect x="798.99" y="242.80" width="4.20" height="24.10" fill="#089981"/>
<line x1="806.66" y1="227.80" x2="806.66" y2="321.70" stroke="#f23645" stroke-width="1.5" opacity="0.62"/>
<rect x="804.56" y="242.80" width="4.20" height="50.10" fill="#f23645"/>
<line x1="812.22" y1="266.60" x2="812.22" y2="305.90" stroke="#089981" stroke-width="1.5" opacity="0.62"/>
<rect x="810.12" y="277.80" width="4.20" height="15.10" fill="#089981"/>
<line x1="817.79" y1="276.00" x2="817.79" y2="313.00" stroke="#f23645" stroke-width="1.5" opacity="0.62"/>
<rect x="815.69" y="277.70" width="4.20" height="27.70" fill="#f23645"/>
<line x1="823.36" y1="293.50" x2="823.36" y2="315.80" stroke="#089981" stroke-width="1.5" opacity="0.62"/>
<rect x="821.26" y="293.80" width="4.20" height="12.20" fill="#089981"/>
<line x1="828.92" y1="291.50" x2="828.92" y2="314.40" stroke="#f23645" stroke-width="1.5" opacity="0.62"/>
<rect x="826.82" y="294.00" width="4.20" height="16.60" fill="#f23645"/>
<line x1="834.49" y1="281.00" x2="834.49" y2="326.20" stroke="#089981" stroke-width="1.5" opacity="0.62"/>
<rect x="832.39" y="285.70" width="4.20" height="25.00" fill="#089981"/>
<line x1="840.05" y1="282.20" x2="840.05" y2="310.70" stroke="#089981" stroke-width="1.5" opacity="0.62"/>
<rect x="837.95" y="284.00" width="4.20" height="1.20" fill="#089981"/>
<line x1="845.62" y1="265.00" x2="845.62" y2="315.30" stroke="#f23645" stroke-width="1.5" opacity="0.62"/>
<rect x="843.52" y="284.30" width="4.20" height="29.50" fill="#f23645"/>
<line x1="851.19" y1="306.40" x2="851.19" y2="325.70" stroke="#089981" stroke-width="1.5" opacity="0.62"/>
<rect x="849.09" y="310.20" width="4.20" height="3.60" fill="#089981"/>
<line x1="856.75" y1="305.50" x2="856.75" y2="319.80" stroke="#f23645" stroke-width="1.5" opacity="0.62"/>
<rect x="854.65" y="310.20" width="4.20" height="4.80" fill="#f23645"/>
<line x1="862.32" y1="308.60" x2="862.32" y2="330.50" stroke="#f23645" stroke-width="1.5" opacity="0.62"/>
<rect x="860.22" y="314.50" width="4.20" height="12.60" fill="#f23645"/>
<line x1="867.88" y1="303.40" x2="867.88" y2="338.80" stroke="#089981" stroke-width="1.5" opacity="0.62"/>
<rect x="865.78" y="309.30" width="4.20" height="18.60" fill="#089981"/>
<line x1="873.45" y1="288.80" x2="873.45" y2="331.40" stroke="#089981" stroke-width="1.5" opacity="0.62"/>
<rect x="871.35" y="299.80" width="4.20" height="10.00" fill="#089981"/>
<line x1="879.02" y1="275.90" x2="879.02" y2="324.00" stroke="#089981" stroke-width="1.5" opacity="0.62"/>
<rect x="876.92" y="285.70" width="4.20" height="14.60" fill="#089981"/>
<line x1="884.58" y1="276.70" x2="884.58" y2="293.10" stroke="#089981" stroke-width="1.5" opacity="0.62"/>
<rect x="882.48" y="281.00" width="4.20" height="5.20" fill="#089981"/>
<line x1="890.15" y1="284.80" x2="890.15" y2="299.10" stroke="#089981" stroke-width="1.5" opacity="0.62"/>
<rect x="888.05" y="290.90" width="4.20" height="3.40" fill="#089981"/>
<line x1="895.71" y1="288.60" x2="895.71" y2="296.00" stroke="#f23645" stroke-width="1.5" opacity="0.62"/>
<rect x="893.61" y="290.90" width="4.20" height="2.90" fill="#f23645"/>
</g>
<text x="9.80" y="18.60" font-size="12.20" fill="#2b2b2b" text-anchor="start" font-weight="normal" textLength="67.7" lengthAdjust="spacingAndGlyphs" stroke="#2b2b2b" stroke-width="0.20">angiepanoyan</text>
<text x="81.30" y="18.60" font-size="12.20" fill="#2b2b2b" text-anchor="start" font-weight="normal" textLength="37.9" lengthAdjust="spacingAndGlyphs" stroke="#2b2b2b" stroke-width="0.20">created</text>
<text x="123.30" y="18.60" font-size="12.20" fill="#2b2b2b" text-anchor="start" font-weight="normal" textLength="21.3" lengthAdjust="spacingAndGlyphs" stroke="#2b2b2b" stroke-width="0.20">with</text>
<text x="149.30" y="18.60" font-size="12.20" fill="#2b2b2b" text-anchor="start" font-weight="normal" textLength="86.0" lengthAdjust="spacingAndGlyphs" stroke="#2b2b2b" stroke-width="0.20">TradingView.com,</text>
<text x="240.20" y="18.60" font-size="12.20" fill="#2b2b2b" text-anchor="start" font-weight="normal" textLength="17.8" lengthAdjust="spacingAndGlyphs" stroke="#2b2b2b" stroke-width="0.20">Feb</text>
<text x="262.20" y="18.60" font-size="12.20" fill="#2b2b2b" text-anchor="start" font-weight="normal" textLength="13.7" lengthAdjust="spacingAndGlyphs" stroke="#2b2b2b" stroke-width="0.20">16,</text>
<text x="280.40" y="18.60" font-size="12.20" fill="#2b2b2b" text-anchor="start" font-weight="normal" textLength="22.8" lengthAdjust="spacingAndGlyphs" stroke="#2b2b2b" stroke-width="0.20">2026</text>
<text x="307.10" y="18.60" font-size="12.20" fill="#2b2b2b" text-anchor="start" font-weight="normal" textLength="27.3" lengthAdjust="spacingAndGlyphs" stroke="#2b2b2b" stroke-width="0.20">04:09</text>
<text x="337.90" y="18.60" font-size="12.20" fill="#2b2b2b" text-anchor="start" font-weight="normal" textLength="19.8" lengthAdjust="spacingAndGlyphs" stroke="#2b2b2b" stroke-width="0.20">UTC</text>
<text x="17.60" y="43.70" font-size="11.40" fill="#252934" text-anchor="start" font-weight="normal" textLength="30.8" lengthAdjust="spacingAndGlyphs" stroke="#252934" stroke-width="0.20">British</text>
<text x="52.70" y="43.70" font-size="11.40" fill="#252934" text-anchor="start" font-weight="normal" textLength="29.3" lengthAdjust="spacingAndGlyphs" stroke="#252934" stroke-width="0.20">Pound</text>
<text x="95.30" y="43.70" font-size="11.40" fill="#252934" text-anchor="start" font-weight="normal" textLength="18.8" lengthAdjust="spacingAndGlyphs" stroke="#252934" stroke-width="0.20">U.S.</text>
<text x="119.50" y="43.70" font-size="11.40" fill="#252934" text-anchor="start" font-weight="normal" textLength="28.6" lengthAdjust="spacingAndGlyphs" stroke="#252934" stroke-width="0.20">Dollar</text>
<text x="159.40" y="43.70" font-size="11.40" fill="#252934" text-anchor="start" font-weight="normal" textLength="11.6" lengthAdjust="spacingAndGlyphs" stroke="#252934" stroke-width="0.20">4h</text>
<text x="182.70" y="43.70" font-size="11.40" fill="#252934" text-anchor="start" font-weight="normal" textLength="11.9" lengthAdjust="spacingAndGlyphs" stroke="#252934" stroke-width="0.20">FP</text>
<text x="197.60" y="43.70" font-size="11.40" fill="#252934" text-anchor="start" font-weight="normal" textLength="38.5" lengthAdjust="spacingAndGlyphs" stroke="#252934" stroke-width="0.20">Markets</text>
<text x="89.00" y="43.70" font-size="11.40" fill="#252934" text-anchor="middle" font-weight="normal" stroke="#252934" stroke-width="0.20">/</text>
<text x="153.70" y="43.70" font-size="11.40" fill="#252934" text-anchor="middle" font-weight="bold" stroke="#252934" stroke-width="0.20">·</text>
<text x="176.35" y="43.70" font-size="11.40" fill="#252934" text-anchor="middle" font-weight="bold" stroke="#252934" stroke-width="0.20">·</text>
<text x="242.90" y="43.70" font-size="11.40" fill="#252934" text-anchor="start" font-weight="normal" textLength="6.8" lengthAdjust="spacingAndGlyphs" stroke="#252934" stroke-width="0.20">O</text>
<text x="250.20" y="43.70" font-size="11.40" fill="#f23645" text-anchor="start" font-weight="normal" textLength="38.8" lengthAdjust="spacingAndGlyphs" stroke="#f23645" stroke-width="0.20">1.36430</text>
<text x="296.60" y="43.70" font-size="11.40" fill="#252934" text-anchor="start" font-weight="normal" textLength="6.6" lengthAdjust="spacingAndGlyphs" stroke="#252934" stroke-width="0.20">H</text>
<text x="303.60" y="43.70" font-size="11.40" fill="#f23645" text-anchor="start" font-weight="normal" textLength="38.5" lengthAdjust="spacingAndGlyphs" stroke="#f23645" stroke-width="0.20">1.36455</text>
<text x="349.50" y="43.70" font-size="11.40" fill="#252934" text-anchor="start" font-weight="normal" textLength="5.2" lengthAdjust="spacingAndGlyphs" stroke="#252934" stroke-width="0.20">L</text>
<text x="355.00" y="43.70" font-size="11.40" fill="#f23645" text-anchor="start" font-weight="normal" textLength="38.4" lengthAdjust="spacingAndGlyphs" stroke="#f23645" stroke-width="0.20">1.36376</text>
<text x="400.90" y="43.70" font-size="11.40" fill="#252934" text-anchor="start" font-weight="normal" textLength="6.4" lengthAdjust="spacingAndGlyphs" stroke="#252934" stroke-width="0.20">C</text>
<text x="407.50" y="43.70" font-size="11.40" fill="#f23645" text-anchor="start" font-weight="normal" textLength="38.3" lengthAdjust="spacingAndGlyphs" stroke="#f23645" stroke-width="0.20">1.36408</text>
<text x="453.60" y="43.70" font-size="11.40" fill="#f23645" text-anchor="start" font-weight="normal" textLength="89.8" lengthAdjust="spacingAndGlyphs" stroke="#f23645" stroke-width="0.20">−0.00024 (−0.02%)</text>
<text x="17.60" y="59.40" font-size="11.40" fill="#252934" text-anchor="start" font-weight="normal" textLength="14.2" lengthAdjust="spacingAndGlyphs" stroke="#252934" stroke-width="0.20">Vol</text>
<text x="39.10" y="59.40" font-size="11.40" fill="#ef5350" text-anchor="start" font-weight="normal" textLength="29.7" lengthAdjust="spacingAndGlyphs" stroke="#ef5350" stroke-width="0.20">7.15 K</text>
<text x="962.60" y="60.10" font-size="11.00" fill="#252934" text-anchor="start" font-weight="normal" textLength="38.7" lengthAdjust="spacingAndGlyphs" stroke="#252934" stroke-width="0.20">1.39000</text>
<text x="962.60" y="105.83" font-size="11.00" fill="#252934" text-anchor="start" font-weight="normal" textLength="38.7" lengthAdjust="spacingAndGlyphs" stroke="#252934" stroke-width="0.20">1.38500</text>
<text x="962.60" y="151.55" font-size="11.00" fill="#252934" text-anchor="start" font-weight="normal" textLength="38.7" lengthAdjust="spacingAndGlyphs" stroke="#252934" stroke-width="0.20">1.38000</text>
<text x="962.60" y="197.28" font-size="11.00" fill="#252934" text-anchor="start" font-weight="normal" textLength="38.7" lengthAdjust="spacingAndGlyphs" stroke="#252934" stroke-width="0.20">1.37500</text>
<text x="962.60" y="243.00" font-size="11.00" fill="#252934" text-anchor="start" font-weight="normal" textLength="38.7" lengthAdjust="spacingAndGlyphs" stroke="#252934" stroke-width="0.20">1.37000</text>
<text x="962.60" y="288.73" font-size="11.00" fill="#252934" text-anchor="start" font-weight="normal" textLength="38.7" lengthAdjust="spacingAndGlyphs" stroke="#252934" stroke-width="0.20">1.36500</text>
<text x="962.60" y="334.45" font-size="11.00" fill="#252934" text-anchor="start" font-weight="normal" textLength="38.7" lengthAdjust="spacingAndGlyphs" stroke="#252934" stroke-width="0.20">1.36000</text>
<text x="962.60" y="380.18" font-size="11.00" fill="#252934" text-anchor="start" font-weight="normal" textLength="38.7" lengthAdjust="spacingAndGlyphs" stroke="#252934" stroke-width="0.20">1.35500</text>
<text x="962.60" y="425.90" font-size="11.00" fill="#252934" text-anchor="start" font-weight="normal" textLength="38.7" lengthAdjust="spacingAndGlyphs" stroke="#252934" stroke-width="0.20">1.35000</text>
<text x="962.60" y="471.63" font-size="11.00" fill="#252934" text-anchor="start" font-weight="normal" textLength="38.7" lengthAdjust="spacingAndGlyphs" stroke="#252934" stroke-width="0.20">1.34500</text>
<text x="962.60" y="517.35" font-size="11.00" fill="#252934" text-anchor="start" font-weight="normal" textLength="38.7" lengthAdjust="spacingAndGlyphs" stroke="#252934" stroke-width="0.20">1.34000</text>
<text x="962.60" y="563.08" font-size="11.00" fill="#252934" text-anchor="start" font-weight="normal" textLength="38.7" lengthAdjust="spacingAndGlyphs" stroke="#252934" stroke-width="0.20">1.33500</text>
<text x="962.60" y="608.80" font-size="11.00" fill="#252934" text-anchor="start" font-weight="normal" textLength="38.7" lengthAdjust="spacingAndGlyphs" stroke="#252934" stroke-width="0.20">1.33000</text>
<text x="55.25" y="631.60" font-size="10.70" fill="#20242e" text-anchor="middle" font-weight="normal" stroke="#20242e" stroke-width="0.20">11</text>
<text x="127.61" y="631.60" font-size="10.70" fill="#20242e" text-anchor="middle" font-weight="normal" stroke="#20242e" stroke-width="0.20">14</text>
<text x="194.40" y="631.60" font-size="10.70" fill="#20242e" text-anchor="middle" font-weight="normal" stroke="#20242e" stroke-width="0.20">16</text>
<text x="261.19" y="631.60" font-size="10.70" fill="#20242e" text-anchor="middle" font-weight="normal" stroke="#20242e" stroke-width="0.20">20</text>
<text x="327.98" y="631.60" font-size="10.70" fill="#20242e" text-anchor="middle" font-weight="normal" stroke="#20242e" stroke-width="0.20">22</text>
<text x="389.21" y="631.60" font-size="10.70" fill="#20242e" text-anchor="middle" font-weight="normal" stroke="#20242e" stroke-width="0.20">25</text>
<text x="461.57" y="631.60" font-size="10.70" fill="#20242e" text-anchor="middle" font-weight="normal" stroke="#20242e" stroke-width="0.20">28</text>
<text x="556.19" y="631.60" font-size="10.70" fill="#20242e" text-anchor="middle" font-weight="bold" stroke="#20242e" stroke-width="0.20">Feb</text>
<text x="628.55" y="631.60" font-size="10.70" fill="#20242e" text-anchor="middle" font-weight="normal" stroke="#20242e" stroke-width="0.20">4</text>
<text x="695.34" y="631.60" font-size="10.70" fill="#20242e" text-anchor="middle" font-weight="normal" stroke="#20242e" stroke-width="0.20">6</text>
<text x="762.13" y="631.60" font-size="10.70" fill="#20242e" text-anchor="middle" font-weight="normal" stroke="#20242e" stroke-width="0.20">10</text>
<text x="828.92" y="631.60" font-size="10.70" fill="#20242e" text-anchor="middle" font-weight="normal" stroke="#20242e" stroke-width="0.20">12</text>
<text x="890.15" y="631.60" font-size="10.70" fill="#20242e" text-anchor="middle" font-weight="normal" stroke="#20242e" stroke-width="0.20">15</text>
<rect x="954.2" y="285.9" width="56.1" height="28.5" rx="1.5" fill="#f23645"/>
<text x="963.60" y="298.00" font-size="11.00" fill="#ffffff" text-anchor="start" font-weight="normal" textLength="37.8" lengthAdjust="spacingAndGlyphs" stroke="#ffffff" stroke-width="0.20">1.36408</text>
<text x="962.70" y="311.30" font-size="11.00" fill="#ffffff" text-anchor="start" font-weight="normal" textLength="42.6" lengthAdjust="spacingAndGlyphs" opacity="0.85" stroke="#ffffff" stroke-width="0.20">01:50:17</text>
<rect x="954.1" y="592.2" width="42.9" height="15.3" rx="1.2" fill="#ef5350"/>
<text x="962.90" y="603.80" font-size="11.00" fill="#ffffff" text-anchor="start" font-weight="normal" textLength="30.0" lengthAdjust="spacingAndGlyphs" stroke="#ffffff" stroke-width="0.35">7.15K</text>
<circle cx="895.40" cy="601.95" r="10.7" fill="#ffffff"/>
<circle cx="895.40" cy="601.95" r="9.15" fill="#ffffff" stroke="#9c27b0" stroke-width="1.6"/>
<path d="M898.60 596.95 L891.10 602.85 L894.80 602.85 L892.20 606.95 L899.70 601.05 L896.00 601.05 Z" fill="#9c27b0" stroke="#9c27b0" stroke-width="0.5" stroke-linejoin="round"/>
<circle cx="934.10" cy="601.95" r="10.7" fill="#ffffff"/>
<circle cx="934.10" cy="601.95" r="9.25" fill="#ffffff" stroke="#f3404e" stroke-width="1.5"/>
<g clip-path="url(#flag)">
<rect x="926" y="594" width="17" height="16" fill="#1c50b8"/>
<path d="M926.10 593.95 L942.10 609.95 M942.10 593.95 L926.10 609.95" stroke="#ffffff" stroke-width="2.3"/>
<path d="M926.10 593.95 L942.10 609.95 M942.10 593.95 L926.10 609.95" stroke="#f48a92" stroke-width="1.0"/>
<path d="M934.10 594 V610 M926 601.95 H943" stroke="#ffffff" stroke-width="3.3"/>
<path d="M934.10 594 V610 M926 601.95 H943" stroke="#f04a58" stroke-width="1.8"/>
</g>
<g fill="#131313">
<path d="M11.4 660.9 H22.3 V674.5 H17.0 V666.0 H11.4 Z"/>
<circle cx="27.2" cy="663.4" r="2.65"/>
<path d="M33.1 660.9 H38.9 L33.5 674.5 H27.7 Z"/>
</g>
<text x="46.00" y="674.40" font-size="18.60" fill="#131313" text-anchor="start" font-weight="bold" textLength="111.6" lengthAdjust="spacingAndGlyphs" stroke="#131313" stroke-width="0.20">TradingView</text>
</svg>
</body></html>
